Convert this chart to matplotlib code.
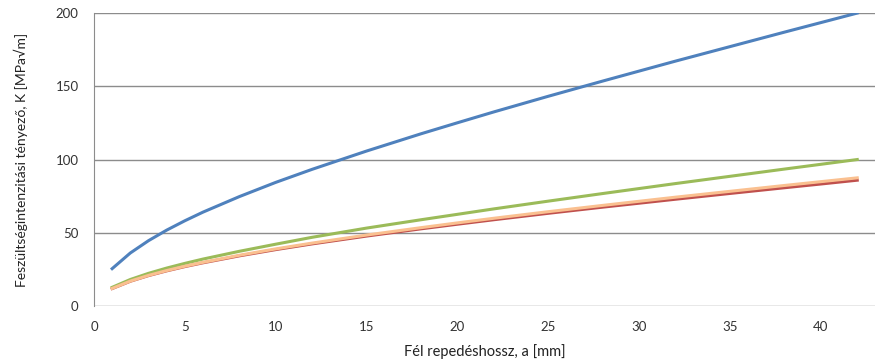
import matplotlib
matplotlib.use("Agg")
import matplotlib.pyplot as plt

# crack half-length a [mm]
a = [1, 2, 3, 4, 5, 6, 8, 10, 12, 15, 18, 20, 22, 25, 28, 30, 32, 35, 38, 40, 42]

# stress intensity factor K [MPa sqrt(m)]
k_blue = [25.5, 36.2, 44.6, 51.8, 58.2, 64.1, 74.7, 84.4, 93.3, 105.8, 117.6, 125.1, 132.5,
          143.2, 153.6, 160.4, 167.2, 177.1, 187.0, 193.5, 200]
k_green = [12.75, 18.1, 22.3, 25.9, 29.1, 32.05, 37.35, 42.2, 46.9, 53.2, 58.9, 62.6, 66.3,
           71.6, 76.8, 80.2, 83.6, 88.55, 93.5, 96.75, 100]
k_orange = [12.0, 17.0, 20.9, 24.2, 27.15, 29.8, 34.65, 39.0, 42.95, 48.45, 53.5, 56.75, 59.9,
            64.4, 68.7, 71.5, 74.3, 78.3, 82.3, 84.9, 87.5]
k_red = [11.9, 16.9, 20.75, 24.0, 26.9, 29.5, 34.25, 38.5, 42.4, 47.75, 52.7, 55.85, 58.9,
         63.3, 67.5, 70.2, 72.9, 76.85, 80.75, 83.3, 85.9]

plt.rcParams['font.family'] = ['Lato', 'DejaVu Sans']

fig = plt.figure(figsize=(8.84, 3.63), dpi=100)
ax = fig.add_axes([0.1063, 0.157, 0.884, 0.807])

ax.plot(a, k_red, color="#C0504D", lw=2.2, zorder=3)
ax.plot(a, k_orange, color="#FAC090", lw=2.2, zorder=4)
ax.plot(a, k_green, color="#9BBB59", lw=2.2, zorder=3)
ax.plot(a, k_blue, color="#4F81BD", lw=2.2, zorder=5)

ax.set_xlim(0, 43)
ax.set_ylim(0, 200)
ax.set_xticks(range(0, 41, 5))
ax.set_yticks(range(0, 201, 50))
ax.grid(axis="y", color="#8C8C8C", lw=1)
ax.set_axisbelow(True)
for s in ["top", "right", "bottom"]:
    ax.spines[s].set_visible(False)
ax.spines["left"].set_color("#8C8C8C")
ax.tick_params(axis="y", length=0, labelsize=9.5, colors="#333333", pad=11)
ax.tick_params(axis="x", length=0, labelsize=9.5, colors="#333333", pad=11)

ax.set_xlabel("Fél repedéshossz, a [mm]", fontsize=10.5, color="#222222", labelpad=8)
ax.set_ylabel("Feszültségintenzitási tényező, K [MPa√m]", fontsize=10, color="#222222", labelpad=20)

fig.savefig("out.png", dpi=100)
